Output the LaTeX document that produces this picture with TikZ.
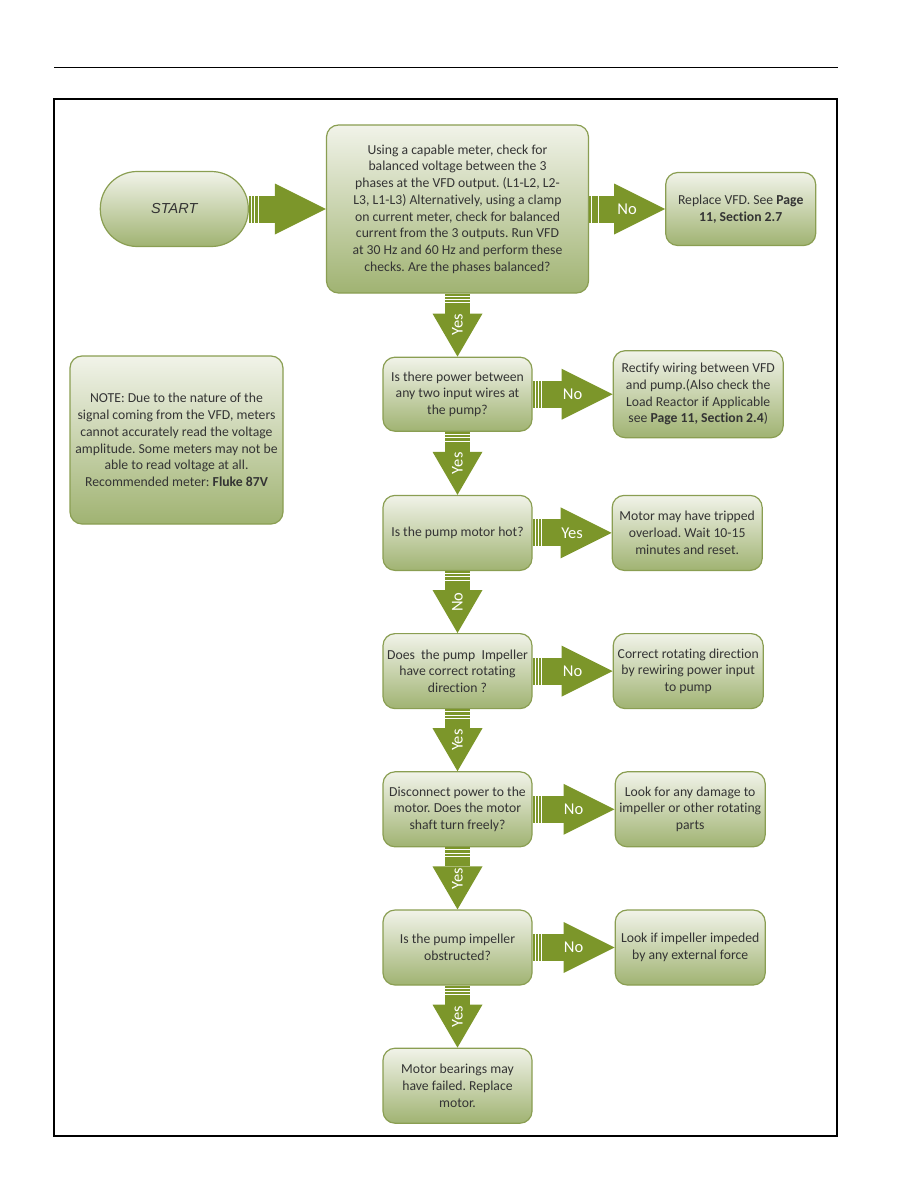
\documentclass[tikz,border=0pt]{standalone}
\usepackage{fontspec}
\setmainfont{Carlito}[Ligatures=NoCommon]
\newfontfamily\startfamily{Liberation Sans}
\usetikzlibrary{arrows.meta,positioning}
\definecolor{arrowgreen}{RGB}{124,150,42}
\definecolor{boxtop}{RGB}{241,243,233}
\definecolor{boxbot}{RGB}{160,179,114}
\definecolor{boxline}{RGB}{138,158,82}
\definecolor{txtgray}{RGB}{52,52,52}
\newcommand{\boxfont}{\fontsize{13.7}{16.7}\selectfont}
\newcommand{\lblfont}{\fontsize{16.5}{18}\selectfont}
\frenchspacing
\tikzset{
  qbox/.style={rectangle, draw=boxline, line width=1.2pt, rounded corners=12pt,
               top color=boxtop, bottom color=boxbot, align=center, text=txtgray,
               font=\boxfont, inner sep=2pt, minimum width=149pt, minimum height=75pt},
  fixbox/.style={qbox, minimum width=150pt},
  startbox/.style={qbox, rounded corners=37pt, minimum width=148pt,
                   font=\startfamily\itshape\fontsize{14.5}{16}\selectfont},
  flow/.style={draw=arrowgreen, line width=27pt,
               -{Triangle[length=51pt, width=51pt, line width=0pt]},
               dash pattern=on 2pt off 0.9pt on 2.5pt off 0.9pt on 2.5pt off 0.9pt on 600pt off 1pt},
  flowdown/.style={flow, line width=25pt,
               -{Triangle[length=43pt, width=50pt, line width=0pt]}},
  lbl/.style={font=\lblfont, text=white, inner sep=0pt},
}

\begin{document}
\begin{tikzpicture}[x=1pt, y=-1pt]
\useasboundingbox (0,0) rectangle (918,1188);
\draw[line width=0.8pt] (54,67) -- (838,67);
\draw[line width=1.6pt] (54,99) rectangle (837,1136);

\node[qbox, minimum width=262pt, minimum height=168pt] (q1) at (457.5,209)
  {Using a capable meter, check for\\balanced voltage between the 3\\phases at the VFD output. (L1-L2, L2-\\L3, L1-L3) Alternatively, using a clamp\\on current meter, check for balanced\\current from the 3 outputs. Run VFD\\at 30 Hz and 60 Hz and perform these\\checks. Are the phases balanced?};
\node[startbox, left=77pt of q1] (start) {START};
\node[fixbox, minimum height=73pt, right=76pt of q1] (fix1)
  {Replace VFD. See \textbf{Page}\\\textbf{11, Section 2.7}};
\node[qbox, minimum height=74pt, below=63pt of q1] (q2)
  {Is there power between\\any two input wires at\\the pump?};
\node[fixbox, minimum width=170pt, minimum height=87pt, right=80pt of q2] (fix2)
  {Rectify wiring between VFD\\and pump.(Also check the\\Load Reactor if Applicable\\see \textbf{Page 11, Section 2.4})};
\node[qbox, below=63pt of q2] (q3) {Is the pump motor hot?};
\node[fixbox, right=79pt of q3] (fix3)
  {Motor may have tripped\\overload. Wait 10-15\\minutes and reset.};
\node[qbox, below=62pt of q3] (q4)
  {Does\ \ the pump\ \ Impeller\\have correct rotating\\direction ?};
\node[fixbox, right=80pt of q4] (fix4)
  {Correct rotating direction\\by rewiring power input\\to pump};
\node[qbox, below=62pt of q4] (q5)
  {Disconnect power to the\\motor. Does the motor\\shaft turn freely?};
\node[fixbox, right=82pt of q5] (fix5)
  {Look for any damage to\\impeller or other rotating\\parts};
\node[qbox, below=62pt of q5] (q6)
  {Is the pump impeller\\obstructed?};
\node[fixbox, right=82pt of q6] (fix6)
  {Look if impeller impeded\\by any external force};
\node[qbox, below=62pt of q6] (q7)
  {Motor bearings may\\have failed. Replace\\motor.};
\node[qbox, minimum width=213pt, minimum height=168pt] (note) at (176.5,440)
  {NOTE: Due to the nature of the\\signal coming from the VFD, meters\\cannot accurately read the voltage\\amplitude. Some meters may not be\\able to read voltage at all.\\Recommended meter: \textbf{Fluke 87V}};

\draw[flow] (start) -- (q1);
\draw[flow] (q1) -- node[lbl]{No} (fix1);
\draw[flow] (q2) -- node[lbl]{No} (fix2);
\draw[flow] (q3) -- node[lbl]{Yes} (fix3);
\draw[flow] (q4) -- node[lbl]{No} (fix4);
\draw[flow] (q5) -- node[lbl]{No} (fix5);
\draw[flow] (q6) -- node[lbl]{No} (fix6);
\draw[flowdown] (q1) -- node[lbl, rotate=90]{Yes} (q2);
\draw[flowdown] (q2) -- node[lbl, rotate=90]{Yes} (q3);
\draw[flowdown] (q3) -- node[lbl, rotate=90]{No} (q4);
\draw[flowdown] (q4) -- node[lbl, rotate=90]{Yes} (q5);
\draw[flowdown] (q5) -- node[lbl, rotate=90]{Yes} (q6);
\draw[flowdown] (q6) -- node[lbl, rotate=90]{Yes} (q7);
\end{tikzpicture}
\end{document}
